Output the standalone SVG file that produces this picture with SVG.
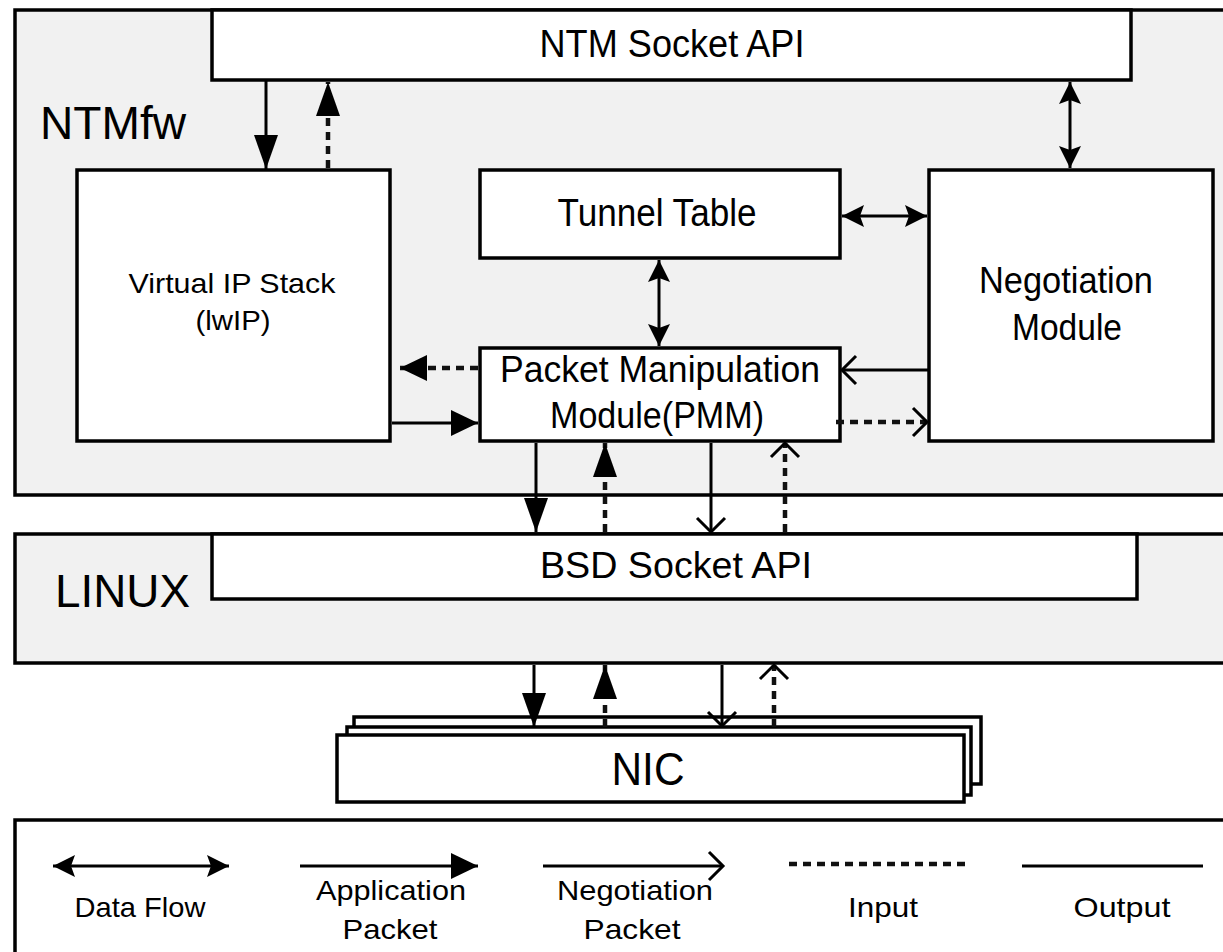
<svg xmlns="http://www.w3.org/2000/svg" width="1223" height="952" viewBox="0 0 1223 952">
<style>
.frame{fill:#f1f1f1;stroke:#000;stroke-width:3.5}
.box{fill:#fff;stroke:#000;stroke-width:3.5}
.lg{fill:#fff;stroke:#000;stroke-width:3.5}
text{font-family:"Liberation Sans",Arial,sans-serif;fill:#000}
.c{text-anchor:middle}
.s{stroke:#000;stroke-width:3;fill:none}
.d{stroke:#111;stroke-width:4.5;fill:none;stroke-dasharray:8 6}
</style>
<defs>
<marker id="fv" markerUnits="userSpaceOnUse" markerWidth="34" markerHeight="24" refX="34" refY="12" orient="auto" overflow="visible"><path d="M0,0 L34,12 L0,24 z" fill="#000"/></marker>
<marker id="fh" markerUnits="userSpaceOnUse" markerWidth="27" markerHeight="26" refX="27" refY="13" orient="auto" overflow="visible"><path d="M0,0 L27,13 L0,26 z" fill="#000"/></marker>
<marker id="op" markerUnits="userSpaceOnUse" markerWidth="16" markerHeight="30" refX="14" refY="14" orient="auto" overflow="visible"><path d="M0,0 L14,14 L0,28" fill="none" stroke="#000" stroke-width="3"/></marker>
<marker id="df" markerUnits="userSpaceOnUse" markerWidth="22" markerHeight="22" refX="22" refY="11" orient="auto-start-reverse" overflow="visible"><path d="M0,0 L22,11 L0,22 L4,11 z" fill="#000"/></marker>
</defs>

<g id="ntmfw">
<rect class="frame" x="15" y="10" width="1230" height="485"/>
<text x="40" y="139" font-size="47" textLength="146" lengthAdjust="spacingAndGlyphs">NTMfw</text>
</g>
<g id="ntm-socket-api">
<rect class="box" x="212" y="10" width="919" height="70"/>
<text class="c" x="672" y="57" font-size="38" textLength="265" lengthAdjust="spacingAndGlyphs">NTM Socket API</text>
</g>
<g id="virtual-ip-stack">
<rect class="box" x="77" y="170" width="313" height="271"/>
<text class="c" x="232" y="293" font-size="28" textLength="207" lengthAdjust="spacingAndGlyphs">Virtual IP Stack</text>
<text class="c" x="233" y="330" font-size="28" textLength="75" lengthAdjust="spacingAndGlyphs">(lwIP)</text>
</g>
<g id="tunnel-table">
<rect class="box" x="480" y="170" width="360" height="88"/>
<text class="c" x="657" y="226" font-size="38" textLength="199" lengthAdjust="spacingAndGlyphs">Tunnel Table</text>
</g>
<g id="negotiation-module">
<rect class="box" x="929" y="170" width="284" height="271"/>
<text class="c" x="1066" y="293" font-size="37" textLength="174" lengthAdjust="spacingAndGlyphs">Negotiation</text>
<text class="c" x="1067" y="340" font-size="37" textLength="110" lengthAdjust="spacingAndGlyphs">Module</text>
</g>
<g id="pmm">
<rect class="box" x="480" y="348" width="360" height="93"/>
<text class="c" x="660" y="382" font-size="36" textLength="320" lengthAdjust="spacingAndGlyphs">Packet Manipulation</text>
<text class="c" x="657" y="428" font-size="36" textLength="214" lengthAdjust="spacingAndGlyphs">Module(PMM)</text>
</g>

<g id="linux">
<rect class="frame" x="15" y="534" width="1230" height="129"/>
<text x="55" y="607" font-size="47" textLength="135" lengthAdjust="spacingAndGlyphs">LINUX</text>
</g>
<g id="bsd-socket-api">
<rect class="box" x="212" y="534" width="925" height="65"/>
<text class="c" x="676" y="578" font-size="36" textLength="272" lengthAdjust="spacingAndGlyphs">BSD Socket API</text>
</g>

<g id="nic">
<rect class="box" x="354" y="717" width="627" height="67"/>
<rect class="box" x="347" y="727" width="624" height="68"/>
<rect class="box" x="337" y="735" width="627" height="67"/>
<text class="c" x="648" y="785" font-size="46" textLength="73" lengthAdjust="spacingAndGlyphs">NIC</text>
</g>

<g id="connectors">
<line class="s" x1="266" y1="81" x2="266" y2="169" marker-end="url(#fv)"/>
<line class="d" x1="328" y1="168" x2="328" y2="82" marker-end="url(#fv)"/>
<line class="s" x1="1070" y1="82" x2="1070" y2="168" marker-start="url(#df)" marker-end="url(#df)"/>
<line class="s" x1="842" y1="216" x2="927" y2="216" marker-start="url(#df)" marker-end="url(#df)"/>
<line class="s" x1="659" y1="260" x2="659" y2="346" marker-start="url(#df)" marker-end="url(#df)"/>
<line class="d" x1="478" y1="368" x2="400" y2="368" marker-end="url(#fh)"/>
<line class="s" x1="392" y1="423" x2="478" y2="423" marker-end="url(#fh)"/>
<line class="s" x1="928" y1="370" x2="842" y2="370" marker-end="url(#op)"/>
<line class="d" x1="836" y1="422" x2="927" y2="422" marker-end="url(#op)"/>
<line class="s" x1="536" y1="443" x2="536" y2="532" marker-end="url(#fv)"/>
<line class="d" x1="605" y1="532" x2="605" y2="443" marker-end="url(#fv)"/>
<line class="s" x1="711" y1="443" x2="711" y2="532" marker-end="url(#op)"/>
<line class="d" x1="785" y1="532" x2="785" y2="443" marker-end="url(#op)"/>
<line class="s" x1="534" y1="665" x2="534" y2="727" marker-end="url(#fv)"/>
<line class="d" x1="605" y1="727" x2="605" y2="665" marker-end="url(#fv)"/>
<line class="s" x1="722" y1="665" x2="722" y2="726" marker-end="url(#op)"/>
<line class="d" x1="774" y1="727" x2="774" y2="665" marker-end="url(#op)"/>
</g>

<g id="legend">
<rect class="lg" x="15" y="820" width="1230" height="150"/>
<line class="s" x1="53" y1="866" x2="229" y2="866" marker-start="url(#df)" marker-end="url(#df)"/>
<text class="c" x="140" y="917" font-size="28" textLength="131" lengthAdjust="spacingAndGlyphs">Data Flow</text>
<line class="s" x1="300" y1="866" x2="478" y2="866" marker-end="url(#fh)"/>
<text class="c" x="391" y="900" font-size="28" textLength="150" lengthAdjust="spacingAndGlyphs">Application</text>
<text class="c" x="390" y="939" font-size="28" textLength="95" lengthAdjust="spacingAndGlyphs">Packet</text>
<line class="s" x1="543" y1="866" x2="723" y2="866" marker-end="url(#op)"/>
<text class="c" x="635" y="900" font-size="28" textLength="156" lengthAdjust="spacingAndGlyphs">Negotiation</text>
<text class="c" x="632" y="939" font-size="28" textLength="97" lengthAdjust="spacingAndGlyphs">Packet</text>
<line class="d" x1="789" y1="864" x2="971" y2="864"/>
<text class="c" x="883" y="917" font-size="28" textLength="70" lengthAdjust="spacingAndGlyphs">Input</text>
<line class="s" x1="1022" y1="866" x2="1203" y2="866"/>
<text class="c" x="1122" y="917" font-size="28" textLength="97" lengthAdjust="spacingAndGlyphs">Output</text>
</g>
</svg>
